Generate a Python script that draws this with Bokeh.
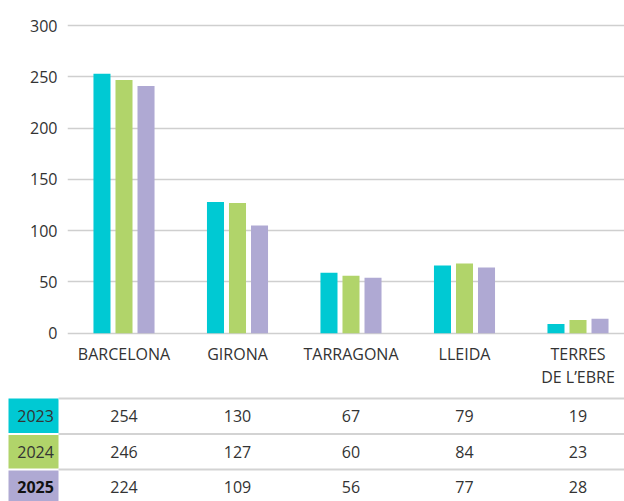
from bokeh.plotting import figure
from bokeh.models import Range1d, FixedTicker, ColumnDataSource
from bokeh.layouts import column
from bokeh.embed import file_html
from bokeh.resources import INLINE
from bokeh.core.properties import value

# ---- data ----
regions = ["BARCELONA", "GIRONA", "TARRAGONA", "LLEIDA", "TERRES\nDE L\u2019EBRE"]
years = ["2023", "2024", "2025"]
bars_2023 = [253, 128, 59, 66, 9]
bars_2024 = [247, 127, 56, 68, 13]
bars_2025 = [241, 105, 54, 64, 14]
table_2023 = [254, 130, 67, 79, 19]
table_2024 = [246, 127, 60, 84, 23]
table_2025 = [224, 109, 56, 77, 28]
y_ticks = [0, 50, 100, 150, 200, 250, 300]

colors = ["#00C9D3", "#B1D46A", "#AFA9D3"]
FONT = "Open Sans"
TXT = "#333333"

n = len(regions)
idx = list(range(n))
offsets = [-0.194, 0.0, 0.194]
bar_w = 0.15
XE = 4.4097

# ---- chart ----
p = figure(width=624, height=390, output_backend="svg", toolbar_location=None,
           x_range=Range1d(-0.4978, XE), y_range=Range1d(-3.2, 324.4),
           min_border_left=67, min_border_right=0, min_border_top=0, min_border_bottom=54)
p.frame_align = False
p.outline_line_color = None
p.background_fill_color = "white"
p.border_fill_color = "white"

for vals, off, c in zip([bars_2023, bars_2024, bars_2025], offsets, colors):
    src = ColumnDataSource(dict(x=[i + off for i in idx], top=vals))
    p.vbar(x="x", top="top", bottom=0, width=bar_w, source=src, fill_color=c, line_color=None)

p.xgrid.visible = False
p.ygrid.ticker = FixedTicker(ticks=y_ticks)
p.ygrid.grid_line_color = "#CFCFCF"
p.ygrid.grid_line_width = 1.5
p.ygrid.level = "underlay"

p.yaxis.ticker = FixedTicker(ticks=y_ticks)
p.xaxis.ticker = FixedTicker(ticks=idx)
p.xaxis.major_label_overrides = {i: r for i, r in zip(idx, regions)}
for ax in (p.xaxis[0], p.yaxis[0]):
    ax.axis_line_color = None
    ax.major_tick_line_color = None
    ax.minor_tick_line_color = None
    ax.major_tick_in = 0
    ax.major_tick_out = 0
    ax.major_label_text_font = FONT
    ax.major_label_text_font_size = "16px"
    ax.major_label_text_color = TXT
p.yaxis.major_label_standoff = 10
p.xaxis.major_label_standoff = 6
p.xaxis.major_label_text_line_height = 1.06

# ---- table ----
t = figure(width=624, height=111, output_backend="svg", toolbar_location=None,
           x_range=Range1d(-1.0881, XE), y_range=Range1d(-2.9014, 0.2254),
           min_border_left=0, min_border_right=0, min_border_top=0, min_border_bottom=0)
t.frame_align = False
t.outline_line_color = None
t.xaxis.visible = False
t.yaxis.visible = False
t.grid.visible = False

row_tops = [0.0, -1.03, -2.03]
row_bottoms = [-0.97, -1.97, -3.0]
t.quad(left=[-1.0176] * 3, right=[-0.577] * 3, top=row_tops, bottom=row_bottoms,
       fill_color=colors, line_color=None)
for yl in [0, -1, -2]:
    t.segment(x0=-0.577, y0=yl, x1=XE, y1=yl, line_color="#D3D3D3", line_width=2)

t.text(x=[-0.618] * 2, y=[-0.5, -1.5], text=years[:2], text_align="right",
       text_baseline="middle", text_font=value(FONT), text_font_size="16px", text_color=TXT)
t.text(x=[-0.618], y=[-2.5], text=years[2:], text_align="right",
       text_baseline="middle", text_font=value(FONT), text_font_size="16px",
       text_color="#111111", text_font_style="bold")

for k, vals in enumerate([table_2023, table_2024, table_2025]):
    t.text(x=idx, y=[-k - 0.5] * n, text=[str(v) for v in vals], text_align="center",
           text_baseline="middle", text_font=value(FONT), text_font_size="16px", text_color=TXT)

layout = column(p, t, spacing=0)
open("out.html", "w").write(file_html(layout, INLINE))
